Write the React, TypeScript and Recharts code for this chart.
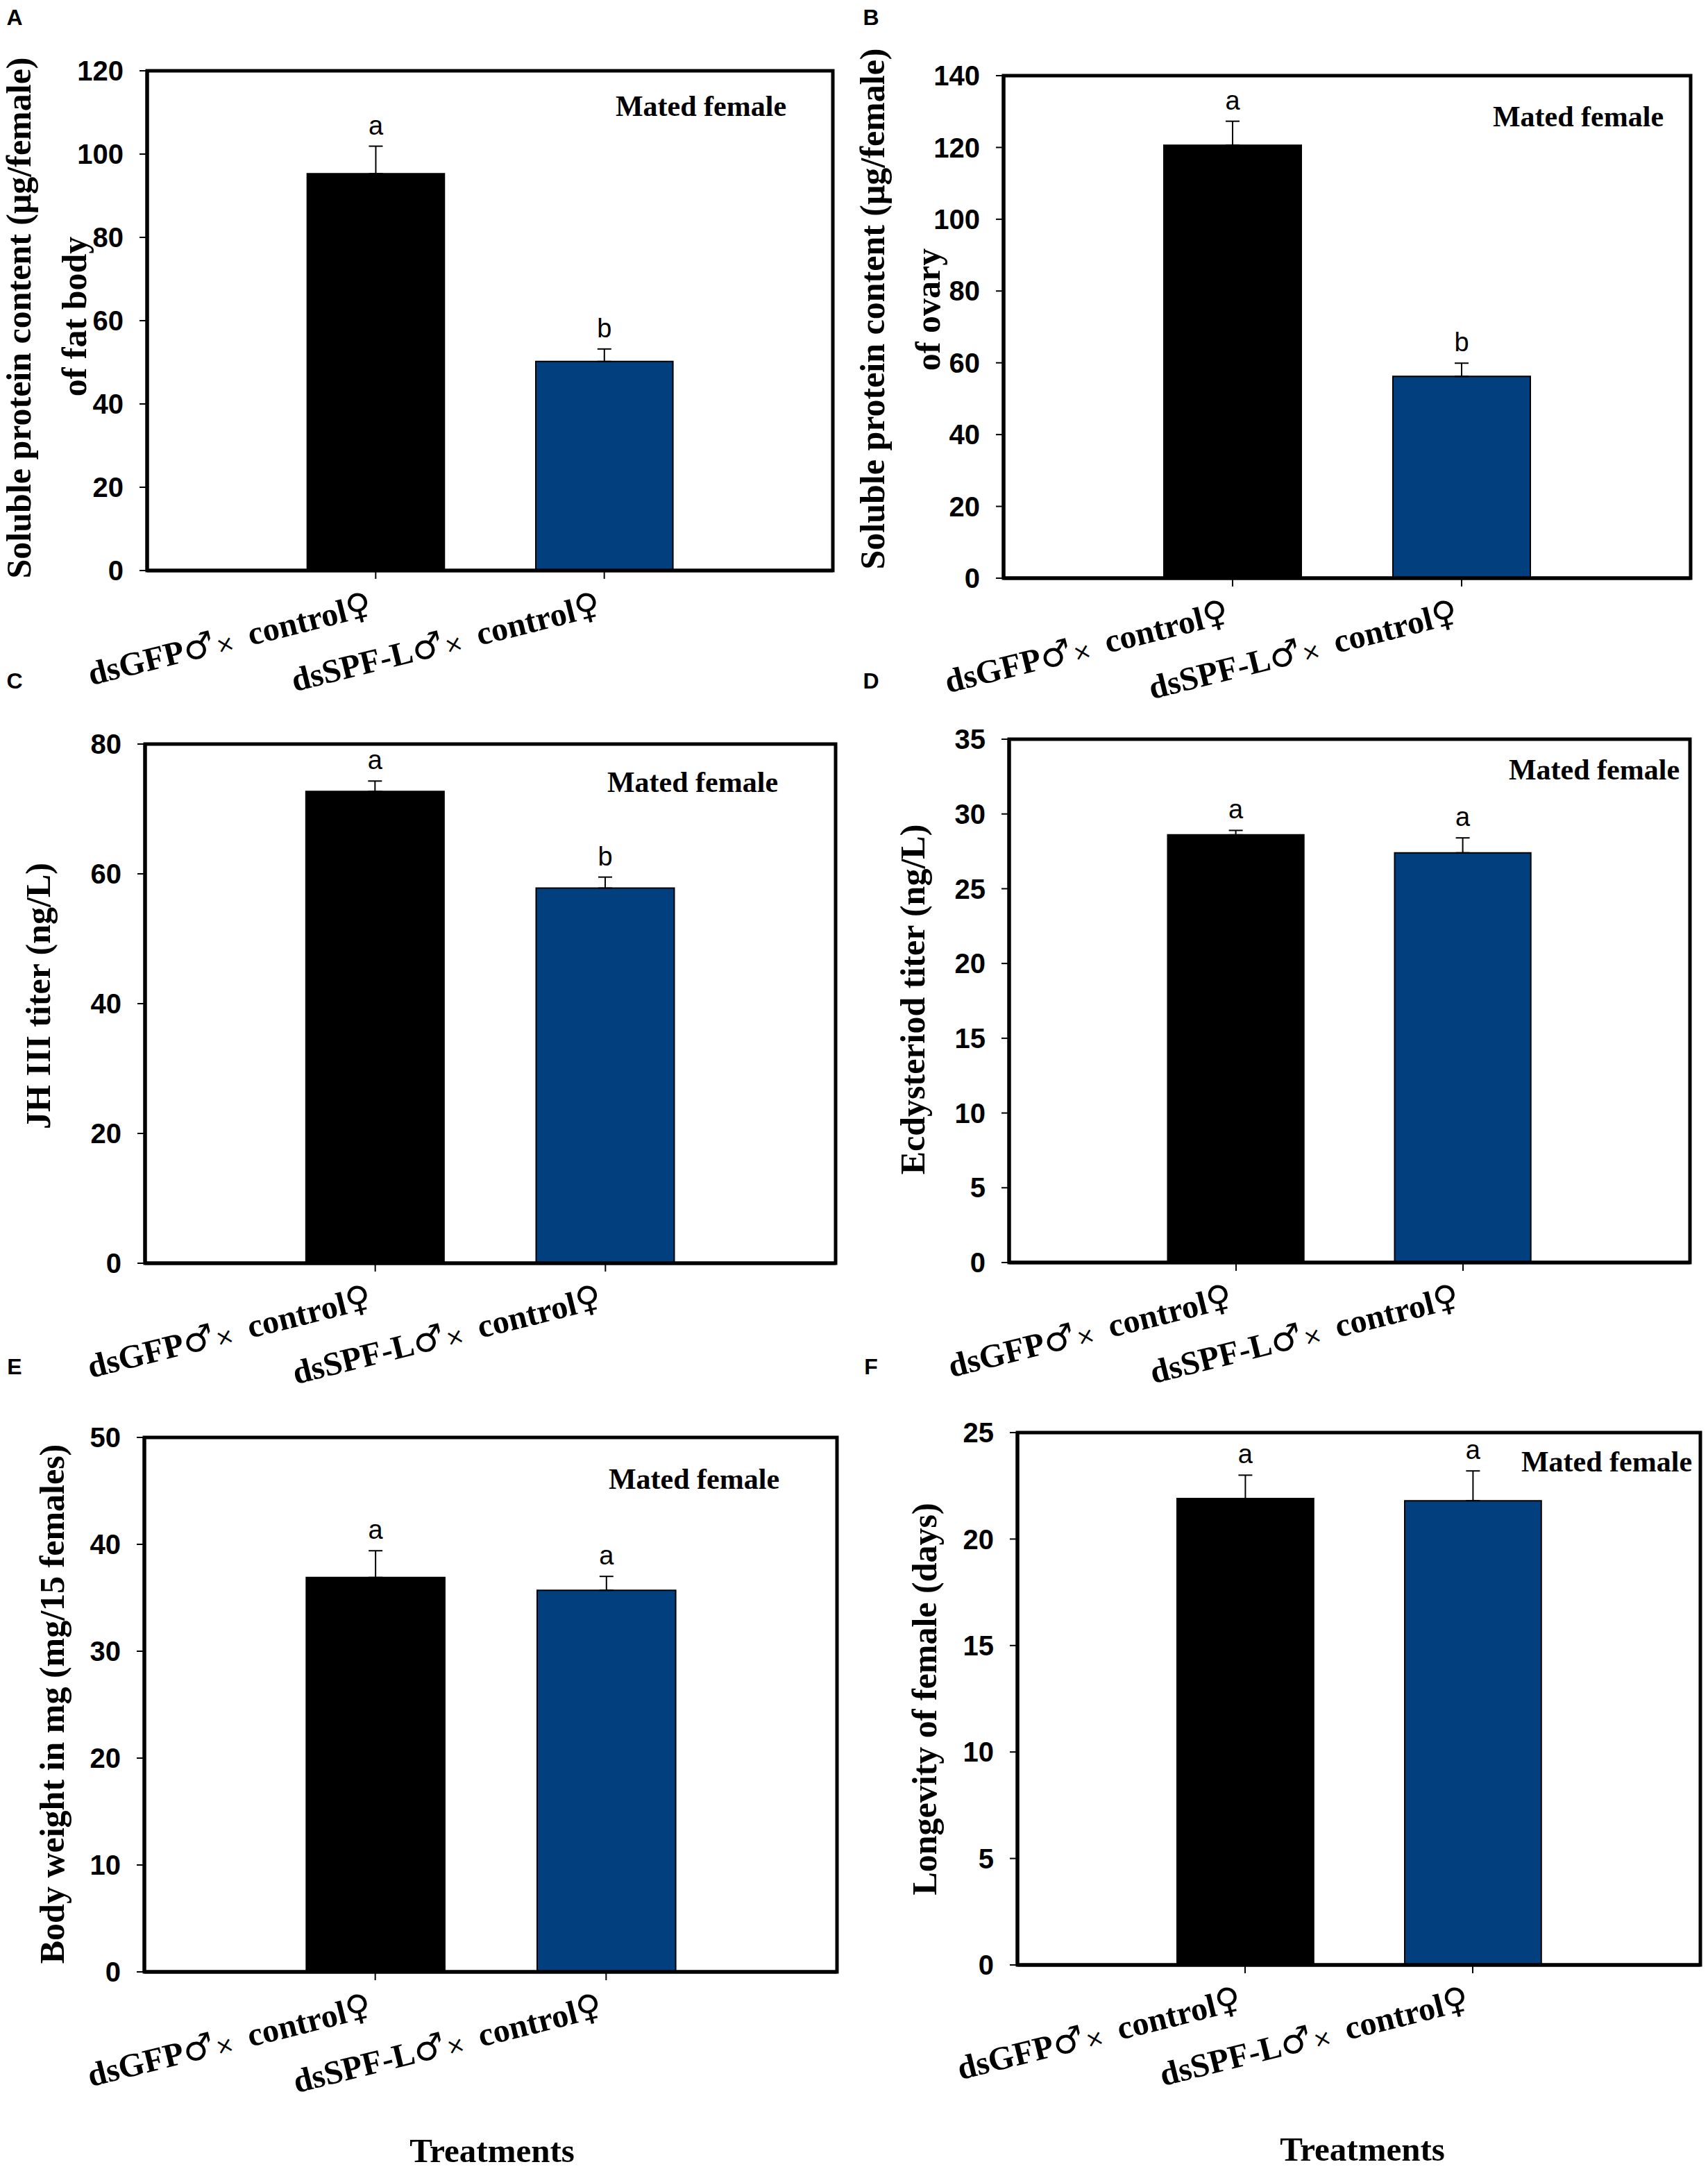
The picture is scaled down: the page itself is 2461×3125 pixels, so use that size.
import React from "react";
import { Bar, BarChart, ErrorBar, LabelList, XAxis, YAxis, Cell } from "recharts";

// treatments (male part of the cross label)
const crosses = ["dsGFP", "dsSPF-L"];
const barColors = ["#000000", "#023F7F"];

// A: soluble protein of fat body
const fatBodyMeans = [95.3, 50.2];
const fatBodyErrs = [6.6, 3.0];
const fatBodyLetters = ["a", "b"];
const fatBodyTicks = [0, 20, 40, 60, 80, 100, 120];

// B: soluble protein of ovary
const ovaryMeans = [120.6, 56.2];
const ovaryErrs = [6.7, 3.7];
const ovaryLetters = ["a", "b"];
const ovaryTicks = [0, 20, 40, 60, 80, 100, 120, 140];

// C: JH III titer
const jhMeans = [72.7, 57.8];
const jhErrs = [1.6, 1.7];
const jhLetters = ["a", "b"];
const jhTicks = [0, 20, 40, 60, 80];

// D: ecdysteroid titer
const ecdMeans = [28.6, 27.4];
const ecdErrs = [0.3, 1.0];
const ecdLetters = ["a", "a"];
const ecdTicks = [0, 5, 10, 15, 20, 25, 30, 35];

// E: body weight
const weightMeans = [36.9, 35.7];
const weightErrs = [2.5, 1.3];
const weightLetters = ["a", "a"];
const weightTicks = [0, 10, 20, 30, 40, 50];

// F: longevity
const longevityMeans = [21.9, 21.8];
const longevityErrs = [1.1, 1.4];
const longevityLetters = ["a", "a"];
const longevityTicks = [0, 5, 10, 15, 20, 25];

const SERIF = "'Liberation Serif', 'Times New Roman', serif";
const SANS = "'Liberation Sans', Arial, sans-serif";
const SYMBOL = "'DejaVu Sans', sans-serif";

const panels = [
  { id: "A", means: fatBodyMeans, errs: fatBodyErrs, letters: fatBodyLetters, ticks: fatBodyTicks,
    ox: 0, oy: 0, w: 1230, h: 1020, box: [212, 102, 1200, 822] },
  { id: "B", means: ovaryMeans, errs: ovaryErrs, letters: ovaryLetters, ticks: ovaryTicks,
    ox: 1230, oy: 0, w: 1231, h: 1020, box: [1446, 109, 2436, 833] },
  { id: "C", means: jhMeans, errs: jhErrs, letters: jhLetters, ticks: jhTicks,
    ox: 0, oy: 950, w: 1230, h: 1060, box: [209, 1072, 1204, 1820] },
  { id: "D", means: ecdMeans, errs: ecdErrs, letters: ecdLetters, ticks: ecdTicks,
    ox: 1230, oy: 950, w: 1231, h: 1060, box: [1454, 1065, 2435, 1819] },
  { id: "E", means: weightMeans, errs: weightErrs, letters: weightLetters, ticks: weightTicks,
    ox: 0, oy: 1940, w: 1230, h: 1185, box: [208, 2071, 1206, 2841] },
  { id: "F", means: longevityMeans, errs: longevityErrs, letters: longevityLetters, ticks: longevityTicks,
    ox: 1230, oy: 1940, w: 1231, h: 1185, box: [1466, 2064, 2450, 2831] },
];

// overlay text (titles etc.)
const panelTags = [
  { t: "A", x: 21, y: 25 }, { t: "B", x: 1255, y: 25 },
  { t: "C", x: 21, y: 981 }, { t: "D", x: 1255, y: 981 },
  { t: "E", x: 21, y: 1969 }, { t: "F", x: 1255, y: 1969 },
];
const yTitles = [
  { t: "Soluble protein content (μg/female)", x: 27, y: 458 },
  { t: "of fat body", x: 107, y: 456 },
  { t: "Soluble protein content (μg/female)", x: 1257, y: 445 },
  { t: "of ovary", x: 1337, y: 446 },
  { t: "JH III titer (ng/L)", x: 55, y: 1435 },
  { t: "Ecdysteriod titer (ng/L)", x: 1315, y: 1440 },
  { t: "Body weight in mg (mg/15 females)", x: 75, y: 2455 },
  { t: "Longevity of female (days)", x: 1332, y: 2448 },
];
const matedNotes = [
  { x: 1010, y: 153 }, { x: 2274, y: 168 },
  { x: 998, y: 1127 }, { x: 2297, y: 1109 },
  { x: 1000, y: 2131 }, { x: 2315, y: 2106 },
];
const treatmentTitles = [{ x: 709, y: 3115 }, { x: 1963, y: 3113 }];

function CrossTick(props: any) {
  const { x, y, payload } = props;
  return (
    <g transform={`translate(${x - 3},${y + 52}) rotate(-14)`}>
      <text textAnchor="end" fontFamily={SERIF} fontWeight="bold" fontSize={48} fill="#000">
        <tspan>{payload.value}</tspan>
        <tspan fontFamily={SYMBOL} fontWeight="normal" fontSize={50}>♂</tspan>
        <tspan fontFamily={SYMBOL} fontWeight="normal" fontSize={32} dx={2}>×</tspan>
        <tspan dx={22}>control</tspan>
        <tspan fontFamily={SYMBOL} fontWeight="normal" fontSize={50}>♀</tspan>
      </text>
    </g>
  );
}

function LetterMark(props: any) {
  const { index, value, rows } = props;
  const vb = props.viewBox || {};
  const x = props.x ?? vb.x;
  const y = props.y ?? vb.y;
  const width = props.width ?? vb.width;
  const height = props.height ?? vb.height;
  const r = rows[index];
  if (!r || x == null) return null;
  const perUnit = height / r.mean;
  const top = y - r.range[1] * perUnit;
  return (
    <text x={x + width / 2} y={top - 17} textAnchor="middle" fontFamily={SANS} fontSize={38} fill="#000">
      {value}
    </text>
  );
}

function Panel({ p }: { p: any }) {
  const [bx1, by1, bx2, by2] = p.box;
  const plotW = bx2 - bx1;
  const xAxisH = 140;
  const rows = crosses.map((c, i) => ({
    cross: c,
    mean: p.means[i],
    range: [0, p.errs[i]],
    letter: p.letters[i],
  }));
  const max = p.ticks[p.ticks.length - 1];
  const frame = { stroke: "#000", strokeWidth: 5 };
  return (
    <div style={{ position: "absolute", left: p.ox, top: p.oy, width: p.w, height: p.h }}>
      <BarChart
        width={p.w}
        height={p.h}
        data={rows}
        margin={{ top: by1 - p.oy, right: p.ox + p.w - bx2, bottom: p.oy + p.h - by2 - xAxisH, left: 0 }}
      >
        <XAxis
          dataKey="cross"
          height={xAxisH}
          padding={{ left: plotW / 6, right: plotW / 6 }}
          axisLine={frame}
          tickLine={{ stroke: "#000", strokeWidth: 2 }}
          tickSize={12}
          tickMargin={0}
          interval={0}
          tick={(tp: any) => <CrossTick {...tp} />}
        />
        <YAxis
          width={bx1 - p.ox}
          domain={[0, max]}
          ticks={p.ticks}
          interval={0}
          axisLine={frame}
          tickLine={{ stroke: "#000", strokeWidth: 2 }}
          tickSize={11}
          tickMargin={23}
          tick={{ fontFamily: SANS, fontWeight: "bold", fontSize: 40, fill: "#000" }}
        />
        <Bar dataKey="mean" barSize={plotW * 0.2} stroke="#000" strokeWidth={2} isAnimationActive={false}>
          {rows.map((r, i) => (
            <Cell key={r.cross} fill={barColors[i]} />
          ))}
          <ErrorBar dataKey="range" direction="y" width={10} stroke="#000" strokeWidth={2} />
          <LabelList dataKey="letter" content={(lp: any) => <LetterMark {...lp} rows={rows} />} />
        </Bar>
      </BarChart>
    </div>
  );
}

export default function App() {
  return (
    <div style={{ position: "absolute", left: 0, top: 0, width: 2461, height: 3125, background: "#fff", overflow: "hidden" }}>
      {panels.map((p) => (
        <Panel key={p.id} p={p} />
      ))}
      <svg width={2461} height={3125} style={{ position: "absolute", left: 0, top: 0, pointerEvents: "none" }}>
        {/* plot frames (closing the top and right sides of each axis box) */}
        {panels.map((p) => (
          <rect key={p.id} x={p.box[0]} y={p.box[1]} width={p.box[2] - p.box[0]} height={p.box[3] - p.box[1]}
            fill="none" stroke="#000" strokeWidth={5} />
        ))}
        {panelTags.map((g) => (
          <text key={g.t} x={g.x} y={g.y} textAnchor="middle" dominantBaseline="central"
            fontFamily={SANS} fontWeight="bold" fontSize={32} fill="#000">{g.t}</text>
        ))}
        {yTitles.map((g, i) => (
          <text key={i} transform={`translate(${g.x},${g.y}) rotate(-90)`} textAnchor="middle" dominantBaseline="central"
            fontFamily={SERIF} fontWeight="bold" fontSize={50} fill="#000">{g.t}</text>
        ))}
        {matedNotes.map((g, i) => (
          <text key={i} x={g.x} y={g.y} textAnchor="middle" dominantBaseline="central"
            fontFamily={SERIF} fontWeight="bold" fontSize={42} fill="#000">Mated female</text>
        ))}
        {treatmentTitles.map((g, i) => (
          <text key={i} x={g.x} y={g.y} textAnchor="middle"
            fontFamily={SERIF} fontWeight="bold" fontSize={49} fill="#000">Treatments</text>
        ))}
      </svg>
    </div>
  );
}
